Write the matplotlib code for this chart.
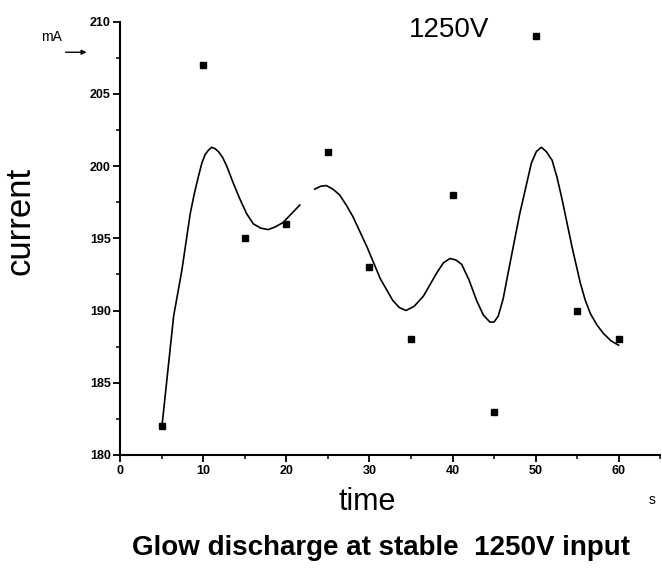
import numpy as np
import matplotlib
matplotlib.use("Agg")
import matplotlib.pyplot as plt
from matplotlib.ticker import MultipleLocator

# measured points (time in s, current in mA)
time_s = [5, 10, 15, 20, 25, 30, 35, 40, 45, 50, 55, 60]
current_mA = [182, 207, 195, 196, 201, 193, 188, 198, 183, 209, 190, 188]

# smooth fitted curve (nan = gap in the line)
curve_t = [5, 6.4, 7.4, 8.4, 8.9, 9.4, 9.8, 10.2, 10.6, 11.0, 11.4, 11.8, 12.3,
           12.8, 13.6, 14.4, 15.2, 16.0, 16.9, 17.8, 18.7, 19.6, 20.6, 21.6,
           np.nan,
           23.4, 24.1, 24.8, 25.6, 26.4, 27.2, 28.0, 29.7, 31.3, 32.8, 33.6,
           34.4, 35.4, 36.5, 38.1, 38.9, 39.7, 40.4, 41.1, 42.0, 42.9, 43.7,
           44.5, 45.0, 45.5, 46.1, 46.7, 48.1, 49.5, 50.1, 50.7, 51.3, 52.0,
           52.6, 53.2, 54.4, 55.4, 56.0, 56.6, 57.4, 58.2, 59.1, 60.0]
curve_i = [182, 189.6, 192.8, 196.7, 198.1, 199.3, 200.2, 200.8, 201.1, 201.3,
           201.2, 201.0, 200.6, 200.0, 198.8, 197.7, 196.7, 196.0, 195.7, 195.6,
           195.8, 196.1, 196.7, 197.3,
           np.nan,
           198.4, 198.6, 198.65, 198.4, 198.0, 197.3, 196.5, 194.4, 192.2,
           190.7, 190.2, 190.0, 190.3, 191.0, 192.6, 193.3, 193.6, 193.5,
           193.2, 192.1, 190.7, 189.7, 189.2, 189.2, 189.6, 190.8, 192.6,
           196.7, 200.2, 201.0, 201.3, 201.0, 200.4, 199.2, 197.7, 194.4,
           191.9, 190.7, 189.8, 189.0, 188.4, 187.9, 187.6]

font = ['Liberation Sans', 'DejaVu Sans']

fig = plt.figure(figsize=(6.62, 5.68), dpi=100)
ax = fig.add_axes([0.182, 0.199, 0.815, 0.763])

ax.plot(curve_t, curve_i, color='black', lw=1.2)
ax.plot(time_s, current_mA, 's', color='black', ms=5)

ax.set_xlim(0, 65)
ax.set_ylim(180, 210)
ax.xaxis.set_minor_locator(MultipleLocator(5))
ax.yaxis.set_major_locator(MultipleLocator(5))
ax.yaxis.set_minor_locator(MultipleLocator(2.5))
ax.set_xticks([0, 10, 20, 30, 40, 50, 60])

for s in ['top', 'right']:
    ax.spines[s].set_visible(False)
for s in ['left', 'bottom']:
    ax.spines[s].set_linewidth(1.5)

ax.tick_params(which='major', direction='out', length=5, width=1.3, pad=2)
ax.tick_params(which='minor', direction='out', length=3, width=1.1)
for lab in ax.get_xticklabels() + ax.get_yticklabels():
    lab.set_family(font)
    lab.set_fontweight('bold')
    lab.set_fontsize(9)

ax.set_ylabel('current', family=font, fontsize=25)
ax.yaxis.set_label_coords(-0.155, 0.54)
ax.set_xlabel('time', family=font, fontsize=22)
ax.xaxis.set_label_coords(0.457, -0.075)

fig.text(0.078, 0.935, 'mA', family=font, fontsize=10, ha='center', va='center')
fig.add_artist(matplotlib.patches.FancyArrowPatch(
    (0.095, 0.908), (0.135, 0.908), transform=fig.transFigure,
    arrowstyle='-|>', mutation_scale=7, lw=1, color='black'))
fig.text(0.99, 0.12, 's', family=font, fontsize=10, ha='right', va='center')
fig.text(0.678, 0.947, '1250V', family=font, fontsize=20, ha='center', va='center')
fig.text(0.575, 0.035, 'Glow discharge at stable  1250V input', family=font,
         fontsize=20, fontweight='bold', ha='center', va='center')

fig.savefig('out.png', dpi=100)
